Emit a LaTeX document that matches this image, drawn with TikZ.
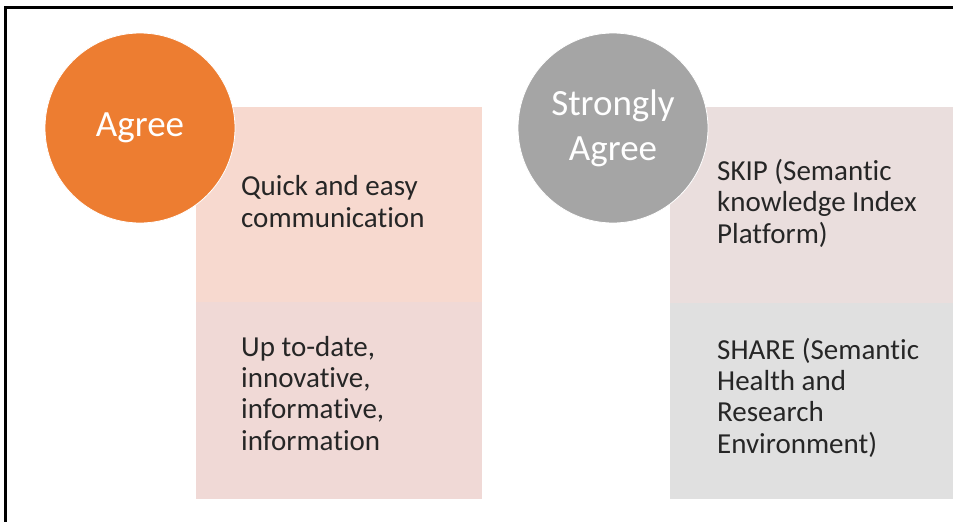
\documentclass[tikz,border=0pt]{standalone}
\usepackage{fontspec}
\setmainfont[Ligatures=NoCommon]{Carlito}
\usepackage{tikz}
\usetikzlibrary{positioning}
\definecolor{agorange}{HTML}{ED7D31}
\definecolor{saggray}{HTML}{A5A5A5}
\definecolor{cellA}{HTML}{F7D9CF}
\definecolor{cellB}{HTML}{F0D9D6}
\definecolor{cellC}{HTML}{EADEDD}
\definecolor{cellD}{HTML}{E0E0E0}
\definecolor{ink}{HTML}{262626}

\begin{document}
\begin{tikzpicture}[x=1pt, y=-1pt,
    cell/.style={draw=none, anchor=north west, inner sep=0, minimum width=#1},
    circ/.style={circle, draw=white, line width=0.8pt, minimum size=190pt, inner sep=0,
        text=white, align=center, font=\fontsize{37}{45}\selectfont},
    txt/.style={anchor=base west, align=left, inner sep=0, text=ink,
        font=\fontsize{29}{31.3}\selectfont}]
    \useasboundingbox (0, 0) rectangle (953, 522);
    % frame
    \draw[line width=2.5pt] (953, 7.5) -- (5.5, 7.5) -- (5.5, 522);
    % boxes
    \node[cell=286pt, minimum height=195pt, fill=cellA] (qe) at (196, 107) {};
    \node[cell=286pt, minimum height=197pt, fill=cellB] (up) at (196, 302) {};
    \node[cell=283pt, minimum height=196pt, fill=cellC] (skip) at (670, 107) {};
    \node[cell=283pt, minimum height=196pt, fill=cellD] (share) at (670, 303) {};
    % circles
    \node[circ, fill=agorange] (ag) at (140, 128) {Agree};
    \node[circ, fill=saggray] (sa) at (613, 128) {Strongly\\Agree};
    % texts (base = last line)
    \node[txt] (qet) at (241, 227) {Quick and easy\\communication};
    \node[txt] (upt) at (241, 450) {Up to-date,\\innovative,\\informative,\\information};
    \node[txt] (skipt) at (717, 243) {SKIP (Semantic\\knowledge Index\\Platform)};
    \node[txt] (sharet) at (717, 453) {SHARE (Semantic\\Health and\\Research\\Environment)};
\end{tikzpicture}
\end{document}
